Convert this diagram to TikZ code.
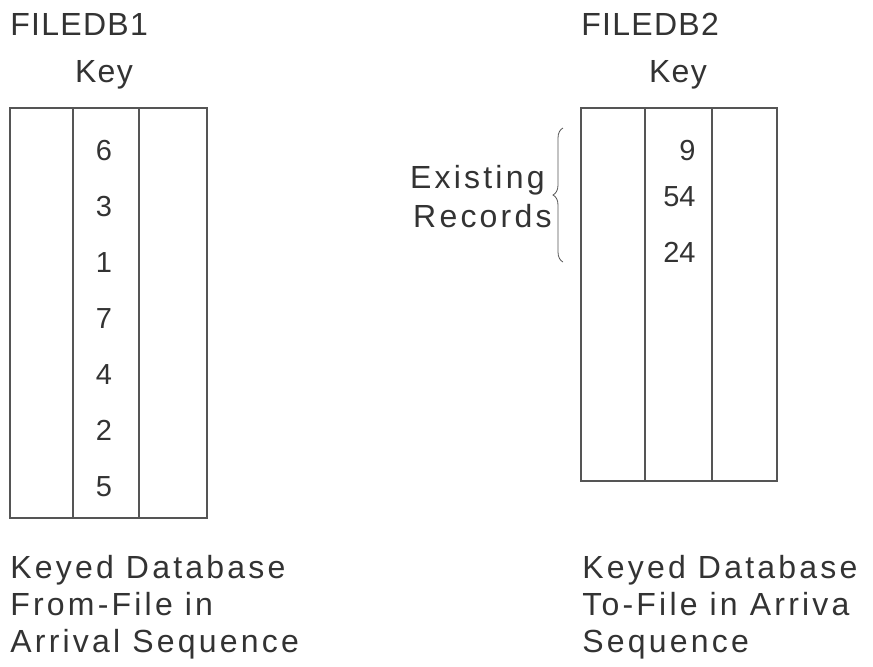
\documentclass[tikz,border=0pt]{standalone}
\usepackage{fontspec}
\setmainfont{Liberation Sans}
\newfontfamily\widefont[LetterSpace=10]{Liberation Sans}
\newfontfamily\keyfont[LetterSpace=4]{Liberation Sans}
\usetikzlibrary{decorations.pathreplacing}
\definecolor{inkgray}{HTML}{333333}
\definecolor{linegray}{HTML}{555555}
\tikzset{
  lbl/.style={anchor=base west,inner sep=0pt,text=inkgray,font=\keyfont\fontsize{16}{19}\selectfont},
  note/.style={anchor=base west,inner sep=0pt,text=inkgray,font=\widefont\fontsize{16}{19}\selectfont},
  digit/.style={anchor=base,inner sep=0pt,text=inkgray,font=\fontsize{14.5}{17}\selectfont},
  tab/.style={draw=linegray,line width=1pt}
}
\begin{document}
\begin{tikzpicture}[x=0.5pt,y=-0.5pt]
\useasboundingbox (0,0) rectangle (873,666);
% from-file
\node[lbl] (name1) at (10,35) {FILEDB1};
\node[lbl,anchor=base] (key1) at (104,82) {Key};
\draw[tab] (10,108) rectangle (207,518);
\draw[tab] (73,108) -- (73,518);
\draw[tab] (139,108) -- (139,518);
\foreach \k [count=\i from 0] in {6,3,1,7,4,2,5}
  \node[digit] (a\i) at (104,160+56*\i) {\k};
\node[note] (from1) at (10,578) {Keyed Database};
\node[note] (from2) at (10,615) {From-File in};
\node[note] (from3) at (10,652) {Arrival Sequence};
% to-file
\node[lbl] (name2) at (581,35) {FILEDB2};
\node[lbl,anchor=base] (key2) at (678,82) {Key};
\draw[tab] (581,108) rectangle (777,481);
\draw[tab] (645,108) -- (645,481);
\draw[tab] (712,108) -- (712,481);
\node[digit,anchor=base east] (b1) at (696,160) {9};
\node[digit,anchor=base east] (b2) at (696,206) {54};
\node[digit,anchor=base east] (b3) at (696,262) {24};
\draw[linegray,thin,decorate,decoration={brace,amplitude=5pt}] (563,262) -- (563,128);
\node[note,anchor=base east] (exist1) at (545,188) {Existing};
\node[note,anchor=base east] (exist2) at (552,227) {Records};
\node[note] (to1) at (582,578) {Keyed Database};
\node[note] (to2) at (582,615) {To-File in Arriva};
\node[note] (to3) at (582,652) {Sequence};
\end{tikzpicture}
\end{document}
